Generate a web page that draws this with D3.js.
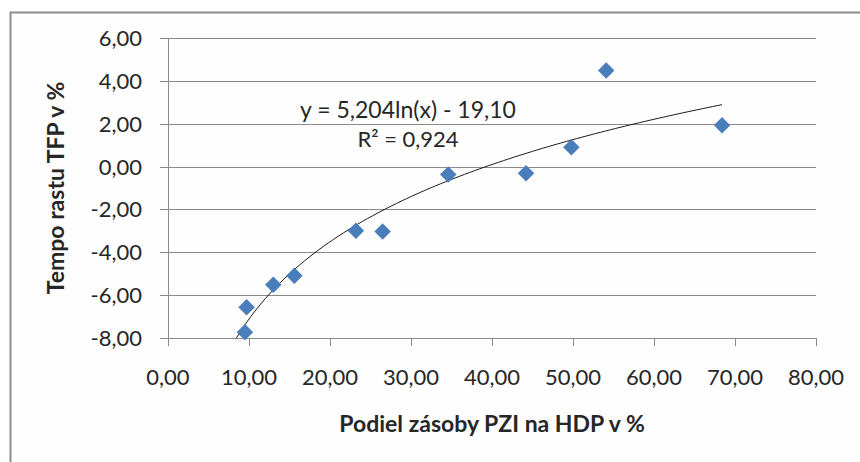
<!DOCTYPE html>
<html>
<head>
<meta charset="utf-8">
<script src="https://cdn.jsdelivr.net/npm/d3@7"></script>
<style>
  html, body { margin: 0; padding: 0; background: #ffffff; }
  svg { display: block; }
  text { font-family: Lato, "Open Sans", sans-serif; fill: #262626; }
</style>
</head>
<body>
<svg id="chart" width="860" height="462"></svg>
<script>
// ---- data ----
const xValues = [9.5, 9.7, 13.0, 15.6, 23.2, 26.5, 34.6, 44.2, 49.8, 54.1, 68.4];
const yValues = [-7.73, -6.56, -5.51, -5.10, -3.00, -3.03, -0.37, -0.31, 0.90, 4.48, 1.93];
const xTicks = [0, 10, 20, 30, 40, 50, 60, 70, 80];
const yTicks = [-8, -6, -4, -2, 0, 2, 4, 6];
const trendA = 5.204;   // y = a*ln(x) + b
const trendB = -19.10;
const equationLabel = "y = 5,204ln(x) - 19,10";
const r2Label = "R² = 0,924";
const xTitle = "Podiel zásoby PZI na HDP v %";
const yTitle = "Tempo rastu TFP v %";

// ---- layout ----
const svg = d3.select("#chart");
const pLeft = 168, pRight = 816, pTop = 38, pBottom = 338;
const x = d3.scaleLinear().domain([0, 80]).range([pLeft, pRight]);
const y = d3.scaleLinear().domain([-8, 6]).range([pBottom, pTop]);
const loc = d3.formatLocale({decimal: ",", thousands: " ", grouping: [3], currency: ["", ""], minus: "-"});
const fmt = loc.format(".2f");
const gridColor = "#8a8a8a";

// outer frame
svg.append("rect").attr("x", 10.5).attr("y", 12.5).attr("width", 900).attr("height", 500)
  .attr("fill", "#fefefe").attr("stroke", "#8c8c8c").attr("stroke-width", 2);

// horizontal gridlines (including y axis ticks extending left)
svg.append("g").selectAll("line").data(yTicks).join("line")
  .attr("x1", pLeft - 8).attr("x2", pRight)
  .attr("y1", d => Math.round(y(d)) + 0.5).attr("y2", d => Math.round(y(d)) + 0.5)
  .attr("stroke", gridColor).attr("stroke-width", 1);

// y axis line
svg.append("line").attr("x1", pLeft + 0.5).attr("x2", pLeft + 0.5)
  .attr("y1", pTop).attr("y2", pBottom + 8)
  .attr("stroke", gridColor);

// x axis ticks
svg.append("g").selectAll("line").data(xTicks).join("line")
  .attr("x1", d => Math.round(x(d)) + 0.5).attr("x2", d => Math.round(x(d)) + 0.5)
  .attr("y1", pBottom).attr("y2", pBottom + 8)
  .attr("stroke", gridColor);

// y tick labels
svg.append("g").selectAll("text").data(yTicks).join("text")
  .attr("x", 142).attr("y", d => y(d) + 8)
  .attr("text-anchor", "end").attr("font-size", 22)
  .text(d => fmt(d));

// x tick labels
svg.append("g").selectAll("text").data(xTicks).join("text")
  .attr("x", d => x(d)).attr("y", 385)
  .attr("text-anchor", "middle").attr("font-size", 22)
  .text(d => fmt(d));

// trend line
const xStart = Math.exp((-8 - trendB) / trendA);
const xEnd = d3.max(xValues);
const trendPts = d3.range(0, 101).map(i => {
  const xv = xStart + (xEnd - xStart) * i / 100;
  return [xv, trendA * Math.log(xv) + trendB];
});
svg.append("path")
  .attr("d", d3.line().x(d => x(d[0])).y(d => y(d[1]))(trendPts))
  .attr("fill", "none").attr("stroke", "#1a1a1a").attr("stroke-width", 1);

// points (diamonds)
const sym = d3.symbol().type(d3.symbolSquare).size(136);
svg.append("g").selectAll("path").data(xValues.map((v, i) => [v, yValues[i]])).join("path")
  .attr("d", sym)
  .attr("transform", d => `translate(${x(d[0])},${y(d[1])}) rotate(45)`)
  .attr("fill", "#4a7ebb");

// equation
svg.append("text").attr("x", 408).attr("y", 118).attr("text-anchor", "middle")
  .attr("font-size", 23).text(equationLabel);
svg.append("text").attr("x", 408).attr("y", 146.5).attr("text-anchor", "middle")
  .attr("font-size", 22).text(r2Label);

// axis titles
svg.append("text").attr("x", (pLeft + pRight) / 2).attr("y", 432).attr("text-anchor", "middle")
  .attr("font-size", 23).attr("font-weight", "bold").text(xTitle);
svg.append("text").attr("transform", "translate(64,188) rotate(-90)").attr("text-anchor", "middle")
  .attr("font-size", 23).attr("font-weight", "bold").text(yTitle);
</script>
</body>
</html>
